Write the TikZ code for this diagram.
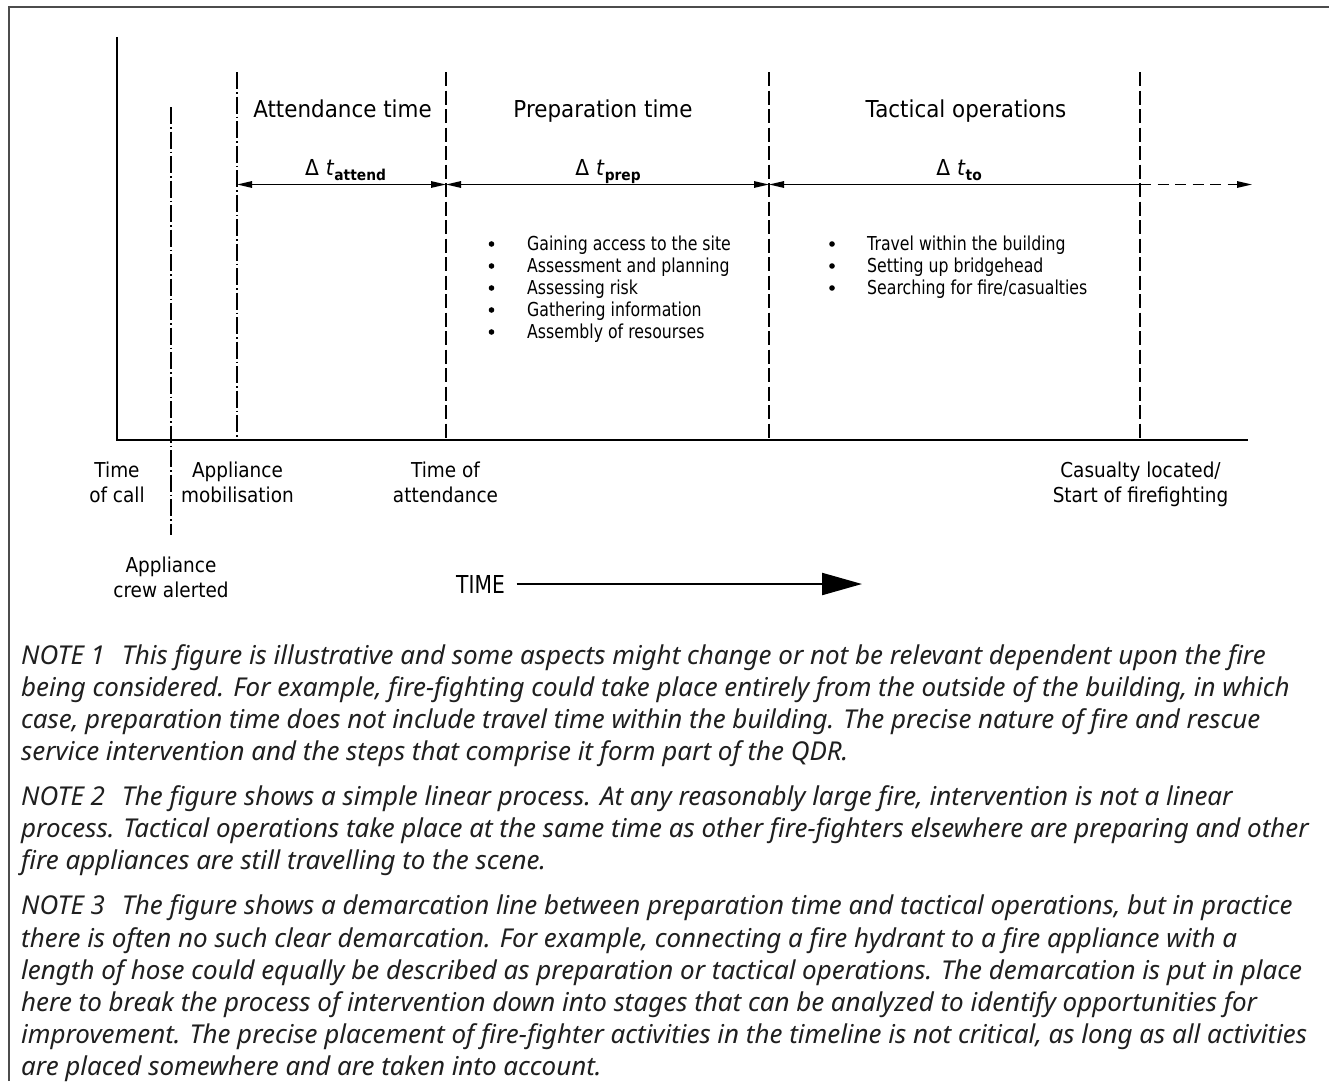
\documentclass[tikz,border=0pt]{standalone}
\usepackage{fontspec}
\usetikzlibrary{arrows.meta}
% narrow technical lettering for the timeline, humanist italic for the notes
\newfontfamily\isohead{DejaVu Sans}[FakeStretch=0.92]
\newfontfamily\isolabel{DejaVu Sans}[FakeStretch=0.82]
\newfontfamily\isotick{DejaVu Sans}[FakeStretch=0.9]
\newfontfamily\notefont{Noto Sans}
\newcommand\dsub[1]{\raisebox{-4.5pt}{\fontsize{15}{15}\selectfont\bfseries #1}}
\newcommand\dlt[1]{Δ\hspace{7pt}\textit{t}\dsub{#1}}
\tikzset{
  dimtip/.tip={Triangle[length=15pt,width=6.5pt]},
  bigtip/.tip={Triangle[length=40pt,width=22pt]}
}

\begin{document}
\begin{tikzpicture}[x=1pt,y=-1pt,
  framestroke/.style={draw=black!70, line width=2pt},
  axisline/.style={line width=2.7pt},
  divider/.style={line width=1.3pt, dash pattern=on 14pt off 4.5pt},
  chainline/.style={line width=1.2pt, dash pattern=on 17pt off 3pt on 1.5pt off 3pt},
  dimline/.style={line width=1.4pt},
  heading/.style={font={\isohead\fontsize{23.3}{27}\selectfont}, inner sep=0pt, anchor=base},
  dimlabel/.style={font={\isohead\fontsize{22}{26}\selectfont}, inner sep=0pt, anchor=base},
  ticklabel/.style={font={\isotick\fontsize{20.5}{25}\selectfont}, inner sep=0pt, anchor=north, align=center},
  itemtext/.style={font={\isolabel\fontsize{19.2}{22}\selectfont}, inner sep=0pt, anchor=base west},
  bulletdot/.style={circle, fill=black, inner sep=0pt, minimum size=5.6pt},
  timetext/.style={font={\isolabel\fontsize{24.7}{28}\selectfont}, inner sep=0pt, anchor=base west},
  noteline/.style={font={\notefont\itshape\fontsize{25.95}{32}\selectfont}, text=black!88, inner sep=0pt, anchor=base west}
]
\useasboundingbox (0,0) rectangle (1329,1081);

% page frame (top and left edges)
\coordinate (fbl) at (9,1081);
\coordinate (ftl) at (9,7);
\coordinate (ftr) at (1329,7);
\draw[framestroke] (fbl) -- (ftl) -- (ftr);

% axes
\coordinate (ytop) at (117,37);
\coordinate (orig) at (117,440);
\coordinate (xend) at (1248,440);
\draw[axisline] (ytop) -- (orig) -- (xend);

% event lines
\coordinate (crewT) at (171,107);   \coordinate (crewB) at (171,535);
\coordinate (mobT)  at (237,72);    \coordinate (mobB)  at (237,440);
\coordinate (attT)  at (446,72);    \coordinate (attB)  at (446,440);
\coordinate (prepT) at (769,72);    \coordinate (prepB) at (769,440);
\coordinate (casT)  at (1140,72);   \coordinate (casB)  at (1140,440);
\draw[chainline] (crewT) -- (crewB);
\draw[chainline] (mobT) -- (mobB);
\draw[divider] (attT) -- (attB);
\draw[divider] (prepT) -- (prepB);
\draw[divider] (casT) -- (casB);

% interval dimensions
\coordinate (d0) at (237,184.5);
\coordinate (d1) at (446,184.5);
\coordinate (d2) at (769,184.5);
\coordinate (d3) at (1140,184.5);
\coordinate (d4) at (1252,184.5);
\draw[dimline, dimtip-dimtip] (d0) -- (d1);
\draw[dimline, dimtip-dimtip] (d1) -- (d2);
\draw[dimline, dimtip-] (d2) -- (d3);
\draw[dimline, dash pattern=on 11pt off 6.5pt, -dimtip] (d3) -- (d4);

% phase headings
\node[heading] (hAtt)  at (342.5,117) {Attendance time};
\node[heading] (hPrep) at (603,117) {Preparation time};
\node[heading] (hTac)  at (966,117) {Tactical operations};

% interval symbols
\node[dimlabel] (sAtt)  at (345.5,175.5) {\dlt{attend}};
\node[dimlabel] (sPrep) at (608,175.5) {\dlt{prep}};
\node[dimlabel] (sTac)  at (959,175.5) {\dlt{to}};

% preparation activities
\node[bulletdot] (pb1) at (491.5,244) {};
\node[bulletdot] (pb2) at (491.5,266) {};
\node[bulletdot] (pb3) at (491.5,288) {};
\node[bulletdot] (pb4) at (491.5,310) {};
\node[bulletdot] (pb5) at (491.5,332) {};
\node[itemtext] (pt1) at (527,250.5) {Gaining access to the site};
\node[itemtext] (pt2) at (527,272.5) {Assessment and planning};
\node[itemtext] (pt3) at (527,294.5) {Assessing risk};
\node[itemtext] (pt4) at (527,316.5) {Gathering information};
\node[itemtext] (pt5) at (527,338.5) {Assembly of resourses};

% tactical activities
\node[bulletdot] (tb1) at (832,244) {};
\node[bulletdot] (tb2) at (832,266) {};
\node[bulletdot] (tb3) at (832,288) {};
\node[itemtext] (tt1) at (867,250.5) {Travel within the building};
\node[itemtext] (tt2) at (867,272.5) {Setting up bridgehead};
\node[itemtext] (tt3) at (867,294.5) {Searching for fire/casualties};

% event labels
\node[ticklabel] (lCall) at (117,461.5)  {Time\\of call};
\node[ticklabel] (lMob)  at (237.5,461.5) {Appliance\\mobilisation};
\node[ticklabel] (lAtt)  at (445.5,461.5) {Time of\\attendance};
\node[ticklabel] (lCas)  at (1140.5,461.5) {Casualty located/\\Start of firefighting};
\node[ticklabel] (lCrew) at (171,556.5)  {Appliance\\crew alerted};

% time direction
\node[timetext] (tm) at (456,593) {TIME};
\coordinate (ta) at (516.5,584);
\coordinate (tb) at (862,584);
\draw[line width=2.2pt, -bigtip] (ta) -- (tb);

% notes
\node[noteline] (n1a) at (21,664) {NOTE 1\hspace{17pt}This figure is illustrative and some aspects might change or not be relevant dependent upon the fire};
\node[noteline] (n1b) at (21,696.2) {being considered. For example, fire-fighting could take place entirely from the outside of the building, in which};
\node[noteline] (n1c) at (21,728.4) {case, preparation time does not include travel time within the building. The precise nature of fire and rescue};
\node[noteline] (n1d) at (21,760.6) {service intervention and the steps that comprise it form part of the QDR.};

\node[noteline] (n2a) at (21,805.5) {NOTE 2\hspace{17pt}The figure shows a simple linear process. At any reasonably large fire, intervention is not a linear};
\node[noteline] (n2b) at (21,837.7) {process. Tactical operations take place at the same time as other fire-fighters elsewhere are preparing and other};
\node[noteline] (n2c) at (21,869.9) {fire appliances are still travelling to the scene.};

\node[noteline] (n3a) at (21,914.8) {NOTE 3\hspace{17pt}The figure shows a demarcation line between preparation time and tactical operations, but in practice};
\node[noteline] (n3b) at (21,947) {there is often no such clear demarcation. For example, connecting a fire hydrant to a fire appliance with a};
\node[noteline] (n3c) at (21,979.2) {length of hose could equally be described as preparation or tactical operations. The demarcation is put in place};
\node[noteline] (n3d) at (21,1011.4) {here to break the process of intervention down into stages that can be analyzed to identify opportunities for};
\node[noteline] (n3e) at (21,1043.6) {improvement. The precise placement of fire-fighter activities in the timeline is not critical, as long as all activities};
\node[noteline] (n3f) at (21,1075.8) {are placed somewhere and are taken into account.};
\end{tikzpicture}
\end{document}
